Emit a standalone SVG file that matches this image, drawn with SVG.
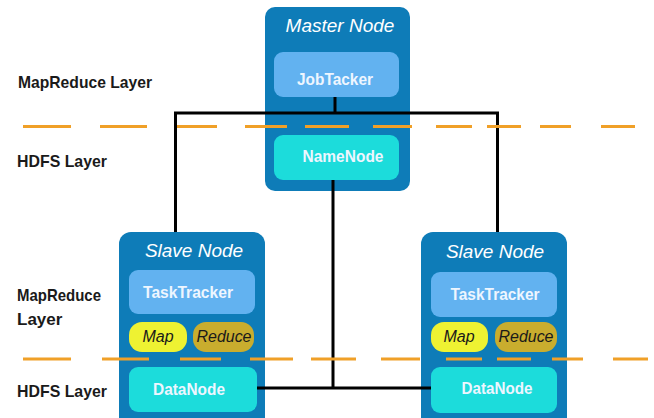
<svg xmlns="http://www.w3.org/2000/svg" width="654" height="418" viewBox="0 0 654 418">
<style>
.outer{fill:#0e7cb8}
.tracker{fill:#62b2f0}
.hdfs{fill:#1cdcdb}
.map{fill:#eef232}
.reduce{fill:#c9ad2e}
.title{font-family:"Liberation Sans",Arial,sans-serif;font-style:italic;font-size:19px;fill:#ffffff;text-anchor:middle}
.box{font-family:"Liberation Sans",Arial,sans-serif;font-weight:bold;font-size:17px;fill:#eef6ff;text-anchor:middle}
.pill{font-family:"Liberation Sans",Arial,sans-serif;font-style:italic;font-size:16px;fill:#1a1a1a;text-anchor:middle}
.layer{font-family:"Liberation Sans",Arial,sans-serif;font-weight:bold;font-size:17px;fill:#1a1a1a}
.conn{stroke:#000;stroke-width:3;fill:none}
.dash{stroke:#f0a028;stroke-width:3;fill:none}
</style>
<g id="labels">
<text class="layer" x="18" y="88" textLength="134" lengthAdjust="spacingAndGlyphs">MapReduce Layer</text>
<text class="layer" x="17" y="167" textLength="90" lengthAdjust="spacingAndGlyphs">HDFS Layer</text>
<text class="layer" x="17" y="301" textLength="84" lengthAdjust="spacingAndGlyphs">MapReduce</text>
<text class="layer" x="17" y="325">Layer</text>
<text class="layer" x="17" y="397" textLength="90" lengthAdjust="spacingAndGlyphs">HDFS Layer</text>
</g>
<g id="master">
<rect class="outer" x="265" y="7" width="145" height="184" rx="10"/>
<text class="title" x="340" y="32">Master Node</text>
<rect class="tracker" x="274" y="52" width="125" height="45" rx="9"/>
<text class="box" x="335" y="85" textLength="76" lengthAdjust="spacingAndGlyphs">JobTacker</text>
<rect class="hdfs" x="274" y="135" width="125" height="45" rx="9"/>
<text class="box" x="343" y="162" textLength="81" lengthAdjust="spacingAndGlyphs">NameNode</text>
</g>
<g id="slave-left">
<path class="outer" d="M119,244 a12,12 0 0 1 12,-12 h122 a12,12 0 0 1 12,12 V418 H119 Z"/>
<text class="title" x="194" y="257">Slave Node</text>
<rect class="tracker" x="129" y="270" width="126" height="44" rx="9"/>
<text class="box" x="188" y="298" textLength="90" lengthAdjust="spacingAndGlyphs">TaskTracker</text>
<rect class="map" x="129" y="322" width="58" height="30" rx="13"/>
<text class="pill" x="158" y="342">Map</text>
<rect class="reduce" x="193" y="322" width="61" height="30" rx="13"/>
<text class="pill" x="224" y="342" textLength="55" lengthAdjust="spacingAndGlyphs">Reduce</text>
<rect class="hdfs" x="129" y="367" width="128" height="45" rx="9"/>
<text class="box" x="189" y="395" textLength="72" lengthAdjust="spacingAndGlyphs">DataNode</text>
</g>
<g id="slave-right">
<path class="outer" d="M421,244 a12,12 0 0 1 12,-12 h122 a12,12 0 0 1 12,12 V418 H421 Z"/>
<text class="title" x="495" y="258">Slave Node</text>
<rect class="tracker" x="431" y="272" width="126" height="45" rx="9"/>
<text class="box" x="495" y="300" textLength="89" lengthAdjust="spacingAndGlyphs">TaskTracker</text>
<rect class="map" x="431" y="322" width="57" height="30" rx="13"/>
<text class="pill" x="459" y="342">Map</text>
<rect class="reduce" x="495" y="322" width="62" height="30" rx="13"/>
<text class="pill" x="526" y="342" textLength="55" lengthAdjust="spacingAndGlyphs">Reduce</text>
<rect class="hdfs" x="431" y="367" width="126" height="46" rx="9"/>
<text class="box" x="497" y="394" textLength="71" lengthAdjust="spacingAndGlyphs">DataNode</text>
</g>
<g id="connectors">
<path class="conn" d="M335,97 V113 M175.5,232 V113 H497.5 V232"/>
<path class="conn" d="M333,180 V388 M257,388 H431"/>
</g>
<g id="layer-dividers">
<path class="dash" d="M23,126.5 H71 M100,126.5 H147 M177,126.5 H217 M245,126.5 H287 M305,126.5 H349 M373,126.5 H412 M436,126.5 H472 M487,126.5 H521 M540,126.5 H571 M601,126.5 H635"/>
<path class="dash" d="M23,359 H71 M102,359 H149 M180,359 H221 M250,359 H293 M311,359 H356 M381,359 H420 M446,359 H482 M497,359 H531 M552,359 H583 M613,359 H648"/>
</g>
</svg>
